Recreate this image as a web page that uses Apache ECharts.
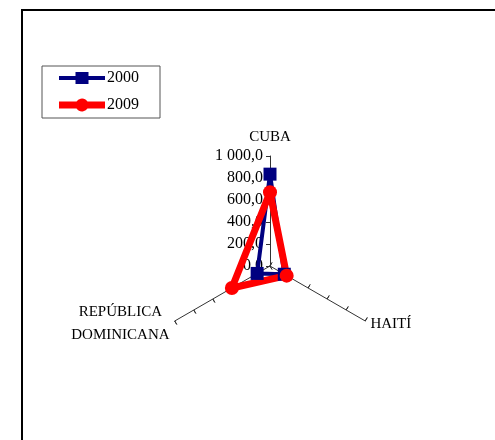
<!DOCTYPE html>
<html>
<head>
<meta charset="utf-8">
<script src="https://cdn.jsdelivr.net/npm/echarts@6/dist/echarts.min.js"></script>
<style>
html,body{margin:0;padding:0;background:#fff;}
#c{width:495px;height:440px;}
</style>
</head>
<body>
<div id="c"></div>
<script>
// Indicators in display order (ECharts places them counter-clockwise from the top)
const categories = ['CUBA', 'REPÚBLICA\nDOMINICANA', 'HAITÍ'];
const seriesNames = ['2000', '2009'];
const values2000 = [835, 135, 150];
const values2009 = [670, 400, 175];
const tickLabels = ['0,0', '200,0', '400,0', '600,0', '800,0', '1 000,0'];
const axisMax = 1000;
const tickStep = 200;

const FONT = 'Liberation Serif, Times New Roman, serif';
const chart = echarts.init(document.getElementById('c'), null, {renderer: 'canvas'});

const indicators = categories.map((n, i) => ({
  name: n, min: 0, max: axisMax,
  axisLabel: {show: i === 0}
}));
const indicators2 = categories.map(n => ({name: n, min: 0, max: axisMax}));

const common = {
  center: [270, 266], radius: 110, startAngle: 90, splitNumber: axisMax / tickStep,
  splitLine: {show: false}, splitArea: {show: false}
};

const iconSquare = 'path://M0,4H16.5V0H29.5V4H46V8H29.5V12H16.5V8H0Z';
const iconCircle = 'path://M0,3.5H17.52A6.5,6.5 0 0 1 28.48,3.5H46V10.5H28.48A6.5,6.5 0 0 1 17.52,10.5H0Z';

chart.setOption({
  backgroundColor: '#fff',
  animation: false,
  graphic: [{
    type: 'rect', shape: {x: 22, y: 10, width: 600, height: 600},
    style: {fill: 'none', stroke: '#000', lineWidth: 2}, silent: true
  }],
  legend: {
    orient: 'vertical', left: 42, top: 66,
    padding: [4, 21, 5, 17], itemGap: 11,
    itemWidth: 46, itemHeight: 14,
    borderColor: '#555', borderWidth: 1, backgroundColor: '#fff',
    textStyle: {fontFamily: FONT, fontSize: 16, color: '#000', padding: [0, 0, 0, -3]},
    data: [
      {name: seriesNames[0], icon: iconSquare},
      {name: seriesNames[1], icon: iconCircle}
    ]
  },
  radar: [
    Object.assign({}, common, {
      indicator: indicators,
      nameGap: 6,
      axisName: {
        color: '#000', fontFamily: FONT, fontSize: 15, lineHeight: 23,
        formatter: n => n.split('\n').map(s => '{c|' + s + '}').join('\n'),
        rich: {c: {align: 'center', color: '#000', fontFamily: FONT, fontSize: 15, lineHeight: 23}}
      },
      axisLine: {lineStyle: {color: '#333', width: 1}},
      axisTick: {show: true, length: 4, lineStyle: {color: '#333', width: 1}},
      axisLabel: {
        show: false, color: '#000', fontFamily: FONT, fontSize: 16, margin: 7,
        formatter: v => tickLabels[Math.round(v / tickStep)]
      }
    }),
    Object.assign({}, common, {
      indicator: indicators2,
      axisName: {show: false},
      axisLine: {show: false},
      axisTick: {show: true, inside: true, length: 4, lineStyle: {color: '#333', width: 1}},
      axisLabel: {show: false}
    })
  ],
  series: [
    {
      type: 'radar', radarIndex: 0, name: seriesNames[0],
      symbol: 'rect', symbolSize: 13,
      lineStyle: {color: '#000080', width: 4},
      itemStyle: {color: '#000080'},
      data: [{value: values2000, name: seriesNames[0]}]
    },
    {
      type: 'radar', radarIndex: 0, name: seriesNames[1],
      symbol: 'circle', symbolSize: 14,
      lineStyle: {color: '#ff0000', width: 7},
      itemStyle: {color: '#ff0000'},
      data: [{value: values2009, name: seriesNames[1]}]
    }
  ]
});
</script>
</body>
</html>
